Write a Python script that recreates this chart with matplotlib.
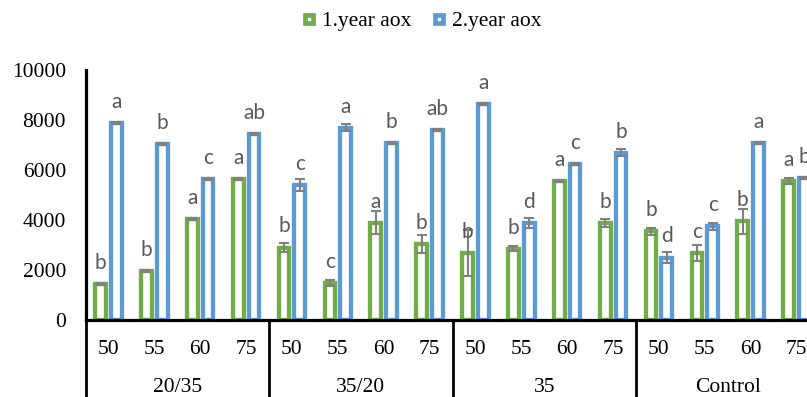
import matplotlib
matplotlib.use("Agg")
import matplotlib.pyplot as plt
from matplotlib.lines import Line2D
import numpy as np

groups = ['20/35', '35/20', '35', 'Control']
subcats = ['50', '55', '60', '75']
series_names = ['1.year aox', '2.year aox']

year1 = [1450, 1950, 4050, 5650, 2900, 1500, 3900, 3050, 2700, 2850, 5550, 3900, 3550, 2700, 3950, 5550]
year1_err = [40, 40, 40, 40, 170, 120, 450, 370, 920, 100, 40, 160, 150, 320, 500, 120]
year2 = [7900, 7050, 5650, 7450, 5400, 7700, 7100, 7600, 8650, 3900, 6250, 6700, 2500, 3750, 7100, 5700]
year2_err = [40, 40, 40, 40, 250, 130, 40, 40, 40, 200, 40, 130, 210, 130, 40, 40]
letters1 = ['b', 'b', 'a', 'a', 'b', 'c', 'a', 'b', 'b', 'b', 'a', 'b', 'b', 'c', 'b', 'a']
letters2 = ['a', 'b', 'c', 'ab', 'c', 'a', 'b', 'ab', 'a', 'd', 'c', 'b', 'd', 'c', 'a', 'b']

GREEN = '#70AD47'
BLUE = '#5B9BD5'
SERIF = 'Liberation Serif'

W, H = 807, 397
fig = plt.figure(figsize=(W / 100, H / 100), dpi=100)
ax = fig.add_axes([85.5 / W, (H - 320) / H, 734 / W, 250 / H])

n = len(year1)
x = np.arange(n)
off = 0.172
bw = 0.234

ax.bar(x - off, year1, width=bw, facecolor='white', edgecolor=GREEN, linewidth=3.1, zorder=2)
ax.bar(x + off, year2, width=bw, facecolor='white', edgecolor=BLUE, linewidth=3.1, zorder=2)
ax.errorbar(x - off, year1, yerr=year1_err, fmt='none', ecolor='#808080', elinewidth=1.5,
            capsize=3.6, capthick=1.5, zorder=3)
ax.errorbar(x + off, year2, yerr=year2_err, fmt='none', ecolor='#808080', elinewidth=1.5,
            capsize=3.6, capthick=1.5, zorder=3)

for xi, v, t in zip(x - off, year1, letters1):
    ax.annotate(t, xy=(xi, v), xytext=(0, 10.8), textcoords='offset points', ha='center',
                va='baseline', fontfamily='Lato', fontsize=15, color='#595959', annotation_clip=False)
for xi, v, t in zip(x + off, year2, letters2):
    ax.annotate(t, xy=(xi, v), xytext=(0, 10.8), textcoords='offset points', ha='center',
                va='baseline', fontfamily='Lato', fontsize=15, color='#595959', annotation_clip=False)

ax.set_xlim(-0.5, n - 0.5)
ax.set_ylim(0, 10000)
ax.set_yticks(range(0, 10001, 2000))
ax.set_yticklabels([str(v) for v in range(0, 10001, 2000)], fontfamily=SERIF, fontsize=15.5)
ax.tick_params(axis='y', length=0, pad=14)
ax.set_xticks([])

for s in ['top', 'right']:
    ax.spines[s].set_visible(False)
ax.spines['left'].set_linewidth(2.3)
ax.spines['bottom'].set_linewidth(2.3)
ax.spines['left'].set_zorder(4)
ax.spines['bottom'].set_zorder(4)

trans = ax.get_xaxis_transform()
for i in range(n):
    ax.text(i, (320 - 354) / 250, subcats[i % 4], transform=trans, ha='center', va='baseline',
            fontfamily=SERIF, fontsize=15.5, clip_on=False)
for g, name in enumerate(groups):
    ax.text(g * 4 + 1.5, (320 - 392) / 250, name, transform=trans, ha='center', va='baseline',
            fontfamily=SERIF, fontsize=15.5, clip_on=False)
for b in range(0, n + 1, 4):
    ax.plot([b - 0.5, b - 0.5], [0, -0.35], transform=trans, color='black', lw=2.0,
            clip_on=False, zorder=4)

handles = [Line2D([], [], ls='none', marker='s', ms=6.3, mew=3.4, mfc='white', mec=GREEN),
           Line2D([], [], ls='none', marker='s', ms=6.3, mew=3.4, mfc='white', mec=BLUE)]
fig.legend(handles, series_names, loc='center', bbox_to_anchor=(422 / W, 1 - 21 / H),
           ncol=2, frameon=False, prop={'family': SERIF, 'size': 15.5}, handlelength=0.6,
           handletextpad=0.3, columnspacing=1.0, borderpad=0, borderaxespad=0)

fig.savefig('out.png', dpi=100)
